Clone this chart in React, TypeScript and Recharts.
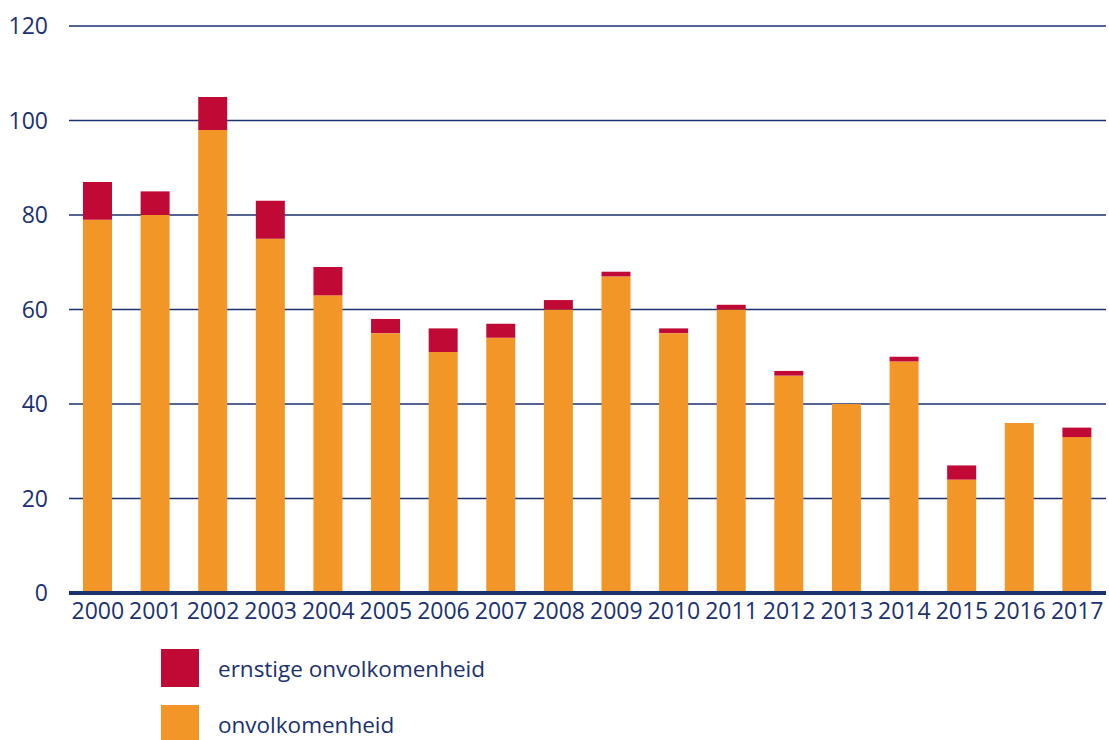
import { BarChart, Bar, XAxis, YAxis, CartesianGrid } from 'recharts';

const years = ['2000', '2001', '2002', '2003', '2004', '2005', '2006', '2007', '2008', '2009', '2010', '2011', '2012', '2013', '2014', '2015', '2016', '2017'];
// onvolkomenheid (orange, bottom of stack)
const onvolkomenheid = [79, 80, 98, 75, 63, 55, 51, 54, 60, 67, 55, 60, 46, 40, 49, 24, 36, 33];
// ernstige onvolkomenheid (red, top of stack)
const ernstig = [8, 5, 7, 8, 6, 3, 5, 3, 2, 1, 1, 1, 1, 0, 1, 3, 0, 2];
const yTicks = [0, 20, 40, 60, 80, 100, 120];

const NAVY = '#1b3170';
const ORANGE = '#f39628';
const RED = '#c00a35';
const FONT = '"Open Sans", sans-serif';

const chartData = years.map((year, i) => ({
  year,
  onvolkomenheid: onvolkomenheid[i],
  ernstig: ernstig[i],
}));

const legendItems = [
  { label: 'ernstige onvolkomenheid', color: RED },
  { label: 'onvolkomenheid', color: ORANGE },
];

export default function App() {
  return (
    <div style={{ position: 'relative', width: 1109, height: 740, background: '#fff', fontFamily: FONT }}>
      <style>{'body { margin: 0; }'}</style>
      <BarChart
        width={1109}
        height={640}
        data={chartData}
        margin={{ top: 26, right: 3, left: 0, bottom: 0 }}
      >
        <CartesianGrid vertical={false} stroke={NAVY} strokeWidth={1.3} />
        <XAxis
          dataKey="year"
          height={47}
          axisLine={{ stroke: NAVY, strokeWidth: 4 }}
          tickLine={false}
          tickSize={0}
          tickMargin={10}
          interval={0}
          tick={{ fill: NAVY, fontSize: 23, fontFamily: FONT }}
        />
        <YAxis
          width={69}
          domain={[0, 120]}
          ticks={yTicks}
          axisLine={false}
          tickLine={false}
          tickSize={0}
          tickMargin={21}
          tick={{ fill: NAVY, fontSize: 23, fontFamily: FONT }}
        />
        <Bar dataKey="onvolkomenheid" stackId="a" fill={ORANGE} barSize={29} isAnimationActive={false} />
        <Bar dataKey="ernstig" stackId="a" fill={RED} barSize={29} isAnimationActive={false} />
      </BarChart>
      <div style={{ position: 'absolute', left: 161, top: 649 }}>
        {legendItems.map(item => (
          <div key={item.label} style={{ display: 'flex', alignItems: 'center', height: 38, marginBottom: 18 }}>
            <div style={{ width: 38, height: 38, background: item.color }} />
            <span style={{ marginLeft: 19, color: NAVY, fontSize: 22.5 }}>{item.label}</span>
          </div>
        ))}
      </div>
    </div>
  );
}
